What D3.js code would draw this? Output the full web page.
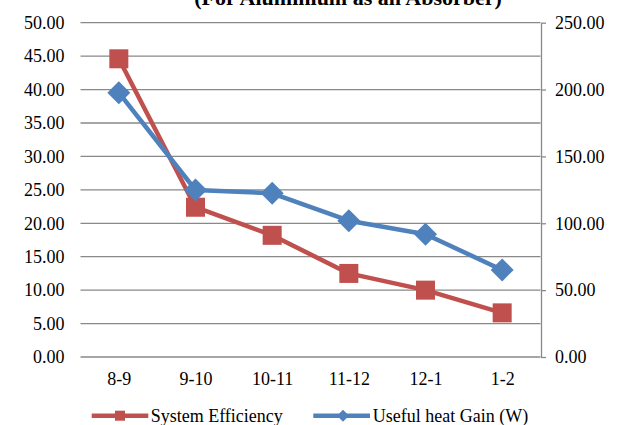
<!DOCTYPE html>
<html><head><meta charset="utf-8">
<script src="https://cdn.jsdelivr.net/npm/d3@7"></script>
<style>html,body{margin:0;padding:0;background:#fff;}svg{display:block;}</style>
</head><body>
<svg id="c" width="619" height="425"></svg>
<script>
const categories = ["8-9","9-10","10-11","11-12","12-1","1-2"];
const efficiency = [44.6, 22.4, 18.2, 12.5, 10.0, 6.6];
const heatGain = [197.7, 124.9, 122.4, 101.9, 91.8, 65.1];
const leftTicks = [0,5,10,15,20,25,30,35,40,45,50];
const rightTicks = [0,50,100,150,200,250];
const titleText = "(For Aluminium as an Absorber)";
const seriesNames = ["System Efficiency","Useful heat Gain (W)"];

const svg = d3.select("#c");
const font = "'Liberation Serif','Times New Roman',serif";
const red = "#C0504D", blue = "#4F81BD", grid = "#898989";

const x = d3.scalePoint().domain(categories).range([80.5, 540.5]).padding(0.5);
const yL = d3.scaleLinear().domain([0,50]).range([357, 22.7]);
const yR = d3.scaleLinear().domain([0,250]).range([357, 22.7]);

// title (partially cut off at top)
svg.append("text").attr("x", 348).attr("y", 5).attr("text-anchor","middle")
  .style("font-family", font).style("font-size","22px").style("font-weight","bold")
  .text(titleText);

// gridlines
svg.append("g").selectAll("line").data(leftTicks).join("line")
  .attr("x1", 80.5).attr("x2", 540.5)
  .attr("y1", d => yL(d)).attr("y2", d => yL(d))
  .attr("stroke", grid).attr("stroke-width", 1.3);

// left axis labels
const gl = svg.append("g").attr("transform","translate(80.5,0)")
  .call(d3.axisLeft(yL).tickValues(leftTicks).tickFormat(d3.format(".2f")).tickSize(0).tickPadding(16));
gl.select(".domain").remove();
gl.selectAll("text").style("font-family", font).style("font-size","18px").attr("fill","#000");

// right axis
const gr = svg.append("g").attr("transform","translate(541,0)")
  .call(d3.axisRight(yR).tickValues(rightTicks).tickFormat(d3.format(".2f")).tickSize(5).tickSizeOuter(0).tickPadding(9));
gr.select(".domain").attr("stroke", grid).attr("stroke-width", 1.3);
gr.selectAll(".tick line").attr("stroke", grid).attr("stroke-width", 1.3);
gr.selectAll("text").style("font-family", font).style("font-size","18px").attr("fill","#000");

// bottom axis labels
const gb = svg.append("g").attr("transform","translate(0,357)")
  .call(d3.axisBottom(x).tickSize(0).tickPadding(15));
gb.select(".domain").remove();
gb.selectAll("text").style("font-family", font).style("font-size","18px").attr("fill","#000");

// efficiency series
svg.append("path").datum(efficiency)
  .attr("d", d3.line().x((d,i)=>x(categories[i])).y(d=>yL(d)))
  .attr("fill","none").attr("stroke", red).attr("stroke-width", 4.5).attr("stroke-linejoin","round");
svg.append("g").selectAll("rect").data(efficiency).join("rect")
  .attr("x",(d,i)=>x(categories[i])-9.5).attr("y",d=>yL(d)-9.5)
  .attr("width",19).attr("height",19).attr("fill", red);

// heat gain series
svg.append("path").datum(heatGain)
  .attr("d", d3.line().x((d,i)=>x(categories[i])).y(d=>yR(d)))
  .attr("fill","none").attr("stroke", blue).attr("stroke-width", 4.5).attr("stroke-linejoin","round");
const dia = r => `M0,${-r}L${r},0L0,${r}L${-r},0Z`;
svg.append("g").selectAll("path").data(heatGain).join("path")
  .attr("transform",(d,i)=>`translate(${x(categories[i])},${yR(d)})`)
  .attr("d", dia(11.5)).attr("fill", blue);

// legend
const lg = svg.append("g");
lg.append("line").attr("x1",91.7).attr("x2",148.3).attr("y1",415.7).attr("y2",415.7)
  .attr("stroke",red).attr("stroke-width",4.5);
lg.append("rect").attr("x",115).attr("y",410.7).attr("width",10).attr("height",10).attr("fill",red);
lg.append("text").attr("x",150.7).attr("y",416).attr("dy","0.32em")
  .style("font-family",font).style("font-size","18px").text(seriesNames[0]);
lg.append("line").attr("x1",313.3).attr("x2",370).attr("y1",415.7).attr("y2",415.7)
  .attr("stroke",blue).attr("stroke-width",4.5);
lg.append("path").attr("transform","translate(343,415.7)").attr("d",dia(6)).attr("fill",blue);
lg.append("text").attr("x",372.7).attr("y",416).attr("dy","0.32em")
  .style("font-family",font).style("font-size","18px").text(seriesNames[1]);
</script>
</body></html>
